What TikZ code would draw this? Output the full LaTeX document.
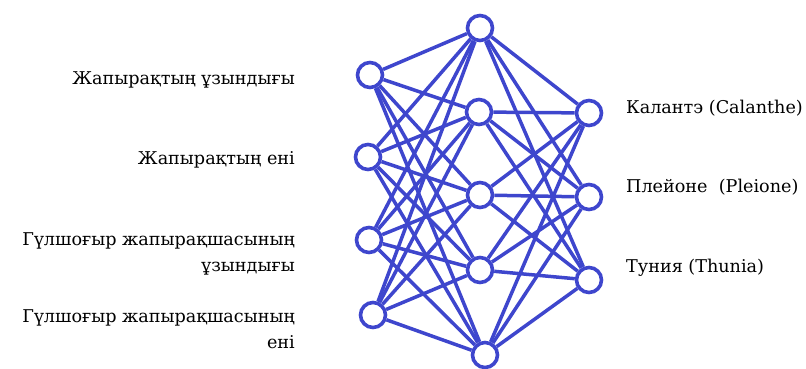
\documentclass[tikz,border=0pt]{standalone}
\usepackage{fontspec}
\newfontfamily\lserif{DejaVu Serif}
\definecolor{netblue}{RGB}{62,70,205}
\begin{document}
\begin{tikzpicture}[x=1pt,y=-1pt,
  neuron/.style={circle,draw=netblue,fill=white,line width=3.6pt,minimum size=25pt,inner sep=0pt},
  link/.style={draw=netblue,line width=3.5pt},
  lbl/.style={font=\lserif\fontsize{17.6}{26}\selectfont,inner sep=0pt}]
\useasboundingbox (0,0) rectangle (806,369);
% input layer
\node[neuron] (i1) at (370,75) {};
\node[neuron] (i2) at (368,157) {};
\node[neuron] (i3) at (369,240) {};
\node[neuron] (i4) at (373,315) {};
% hidden layer
\node[neuron] (h1) at (480,28) {};
\node[neuron] (h2) at (479,112) {};
\node[neuron] (h3) at (480,195) {};
\node[neuron] (h4) at (480,270) {};
\node[neuron] (h5) at (485,355) {};
% output layer
\node[neuron] (o1) at (589,113) {};
\node[neuron] (o2) at (589,197) {};
\node[neuron] (o3) at (589,280) {};
\foreach \i in {1,...,4}
  \foreach \h in {1,...,5}
    \draw[link] (i\i) -- (h\h);
\foreach \h in {1,...,5}
  \foreach \o in {1,...,3}
    \draw[link] (h\h) -- (o\o);
% labels
\node[lbl,anchor=east,align=right] (l1) at (295,80) {Жапырақтың ұзындығы};
\node[lbl,anchor=east,align=right] (l2) at (295,160) {Жапырақтың ені};
\node[lbl,anchor=east,align=right] (l3) at (295,254) {Гүлшоғыр жапырақшасының\\ұзындығы};
\node[lbl,anchor=east,align=right] (l4) at (295,329) {Гүлшоғыр жапырақшасының\\ені};
\node[lbl,anchor=west] (r1) at (626,108) {Калантэ (Calanthe)};
\node[lbl,anchor=west] (r2) at (626,187) {Плейоне\ \ (Pleione)};
\node[lbl,anchor=west] (r3) at (626,268) {Туния (Thunia)};
\end{tikzpicture}
\end{document}
